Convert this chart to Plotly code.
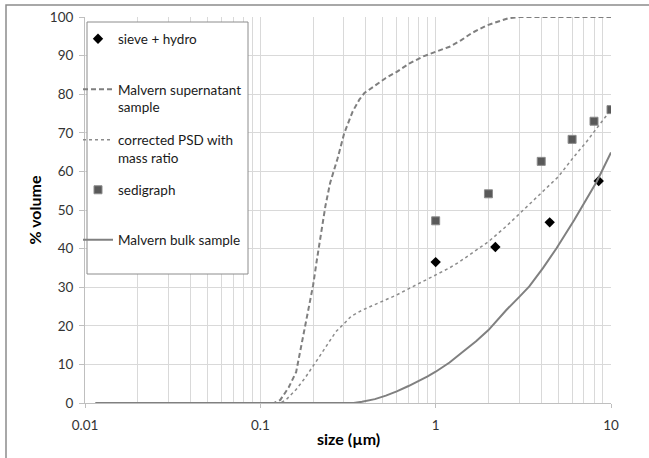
import plotly.graph_objects as go

# Particle size distributions (cumulative % volume vs size in µm)
supernatant_size = [0.0115, 0.12, 0.13, 0.145, 0.16, 0.17, 0.18, 0.19, 0.2, 0.21, 0.22, 0.235,
                    0.25, 0.276, 0.301, 0.336, 0.367, 0.392, 0.457, 0.52, 0.6, 0.71, 0.85,
                    1.0, 1.2, 1.4, 1.6, 1.95, 2.3, 2.6, 3.0, 10.0]
supernatant_vol = [0, 0, 0.8, 4, 8, 14, 19.5, 25, 30.5, 37, 43, 51,
                   57, 63.4, 69.9, 75.5, 78.6, 80.3, 82.4, 84.2, 85.8, 88, 89.8,
                   91, 92.3, 94, 95.8, 97.8, 99, 99.7, 100, 100]

corrected_size = [0.0115, 0.13, 0.14, 0.16, 0.18, 0.2, 0.217, 0.248, 0.27, 0.295, 0.33, 0.383,
                  0.45, 0.521, 0.6, 0.708, 0.85, 1.0, 1.2, 1.37, 1.6, 2.0, 2.53, 3.04,
                  4.0, 5.0, 6.17, 7.2, 8.3, 10.0]
corrected_vol = [0, 0, 0.8, 3.5, 6.5, 9.5, 12, 16, 18.5, 20.2, 22.5, 24.1,
                 25.5, 26.7, 28, 29.7, 31.5, 33.2, 35, 36.6, 38.8, 41.8, 45.8, 49.3,
                 54.4, 58.6, 63.9, 67.5, 71.2, 76.0]

bulk_size = [0.0115, 0.34, 0.38, 0.45, 0.52, 0.6, 0.7, 0.8, 0.9, 1.0, 1.2, 1.43,
             1.7, 2.0, 2.53, 3.0, 3.42, 4.1, 4.89, 6.17, 7.2, 8.3, 10.0]
bulk_vol = [0, 0, 0.3, 1.0, 1.9, 3.0, 4.4, 5.7, 6.9, 8.1, 10.5, 13.3,
            16, 18.9, 24.1, 27.5, 30.2, 35, 40.1, 47.4, 52.5, 57.4, 64.9]

sieve_size = [1.0, 2.19, 4.47, 8.51]
sieve_vol = [36.5, 40.4, 46.8, 57.5]

sedi_size = [1, 2, 4, 6, 8, 10]
sedi_vol = [47.2, 54.2, 62.6, 68.3, 73.0, 76.0]

x_ticks = [0.01, 0.1, 1, 10]
x_tick_text = ["0.01", "0.1", "1", "10"]
x_minor = [m * d for d in (0.01, 0.1, 1) for m in range(2, 10)]
y_ticks = list(range(0, 101, 10))

FONT = "Lato, 'Open Sans', sans-serif"
GRID = "#d9d9d9"
AXIS = "#bfbfbf"
TXT = 13.5

# plot-area geometry in pixels (for placing the legend rows)
TOP, BOTTOM = 17, 403


def py(p):
    return (BOTTOM - p) / (BOTTOM - TOP)


fig = go.Figure()

fig.add_trace(go.Scatter(
    x=sieve_size, y=sieve_vol, mode="markers", name="sieve + hydro",
    marker=dict(symbol="diamond", size=8, color="black"),
    legend="legend", showlegend=True))
fig.add_trace(go.Scatter(
    x=supernatant_size, y=supernatant_vol, mode="lines",
    name="Malvern supernatant<br>sample",
    line=dict(color="#7f7f7f", width=2, dash="5px,3px"), legend="legend2", showlegend=True))
fig.add_trace(go.Scatter(
    x=corrected_size, y=corrected_vol, mode="lines",
    name="corrected PSD with<br>mass ratio",
    line=dict(color="#8c8c8c", width=1.5, dash="dot"), legend="legend3", showlegend=True))
fig.add_trace(go.Scatter(
    x=sedi_size, y=sedi_vol, mode="markers", name="sedigraph",
    marker=dict(symbol="square", size=8, color="#595959",
                line=dict(color="#8c8c8c", width=1)), legend="legend4", showlegend=True))
fig.add_trace(go.Scatter(
    x=bulk_size, y=bulk_vol, mode="lines", name="Malvern bulk sample",
    line=dict(color="#808080", width=2), legend="legend5", showlegend=True))

legend_common = dict(
    xanchor="left", x=(78 - 85) / 526, yanchor="middle",
    bgcolor="rgba(0,0,0,0)", borderwidth=0, valign="top", visible=True,
    font=dict(family=FONT, size=TXT, color="#1a1a1a"))

fig.update_layout(
    width=649, height=458,
    showlegend=True,
    margin=dict(l=85, r=38, t=TOP, b=458 - BOTTOM, autoexpand=False),
    paper_bgcolor="white", plot_bgcolor="white",
    font=dict(family=FONT, size=TXT, color="#404040"),
    legend=dict(legend_common, y=py(39)),
    legend2=dict(legend_common, y=py(98.5)),
    legend3=dict(legend_common, y=py(149)),
    legend4=dict(legend_common, y=py(190)),
    legend5=dict(legend_common, y=py(240)),
    xaxis=dict(
        type="log", range=[-2, 1], tickvals=x_ticks, ticktext=x_tick_text,
        showgrid=True, gridcolor=GRID, gridwidth=1,
        minor=dict(tickvals=x_minor, showgrid=True, gridcolor=GRID, gridwidth=1, ticks=""),
        showline=True, linecolor=AXIS, linewidth=1,
        ticks="outside", ticklen=4, tickcolor=AXIS, ticklabelstandoff=6,
        tickfont=dict(family=FONT, size=TXT, color="#333333"),
        automargin=False, zeroline=False),
    yaxis=dict(
        range=[0, 100], tickvals=y_ticks,
        showgrid=True, gridcolor=GRID, gridwidth=1,
        showline=True, linecolor=AXIS, linewidth=1,
        ticks="outside", ticklen=5, tickcolor=AXIS, ticklabelstandoff=3,
        tickfont=dict(family=FONT, size=TXT, color="#333333"),
        title=dict(text="<b>% volume</b>", standoff=4,
                   font=dict(family=FONT, size=16, color="black")),
        automargin=False, zeroline=False),
    annotations=[
        # x-axis title
        dict(text="<b>size (µm)</b>", xref="paper", yref="paper",
             x=0.5, y=py(438), xanchor="center", yanchor="middle",
             showarrow=False, font=dict(family=FONT, size=16, color="black")),
    ],
    shapes=[
        # chart frame
        dict(type="rect", xref="paper", yref="paper",
             x0=(6 - 85) / 526, x1=(700 - 85) / 526,
             y0=py(520), y1=py(5),
             line=dict(color="#8c8c8c", width=1.5), fillcolor="rgba(0,0,0,0)",
             layer="above"),
        # legend box
        dict(type="rect", xref="paper", yref="paper",
             x0=(87 - 85) / 526, x1=(248 - 85) / 526,
             y0=py(274), y1=py(22),
             line=dict(color="#8c8c8c", width=1), fillcolor="white",
             layer="above"),
    ],
)

fig.write_html("out.html")
